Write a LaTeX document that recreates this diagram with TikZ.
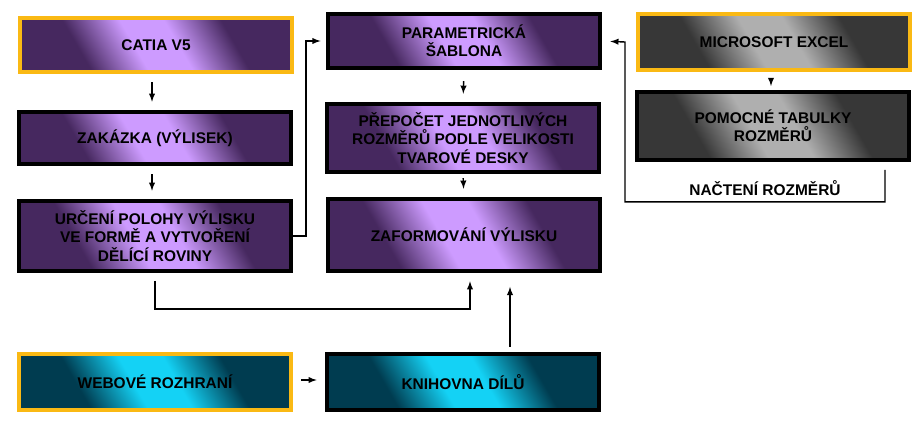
\documentclass[tikz,border=0pt]{standalone}
\usepackage{fontspec}
\setmainfont{Liberation Sans}
\usetikzlibrary{positioning}
\usetikzlibrary{calc}
\definecolor{violetlight}{RGB}{205,155,255}
\definecolor{violetdark}{RGB}{70,40,95}
\definecolor{cyanlight}{RGB}{20,210,245}
\definecolor{cyandark}{RGB}{0,60,80}
\definecolor{greylight}{RGB}{175,175,175}
\definecolor{greydark}{RGB}{55,55,55}
\definecolor{framegold}{RGB}{250,185,20}
\pgfdeclarehorizontalshading{violetshade}{100bp}{color(0bp)=(violetdark); color(32bp)=(violetdark); color(45bp)=(violetlight); color(55bp)=(violetlight); color(68bp)=(violetdark); color(100bp)=(violetdark)}
\pgfdeclarehorizontalshading{cyanshade}{100bp}{color(0bp)=(cyandark); color(32bp)=(cyandark); color(45bp)=(cyanlight); color(55bp)=(cyanlight); color(68bp)=(cyandark); color(100bp)=(cyandark)}
\pgfdeclarehorizontalshading{greyshade}{100bp}{color(0bp)=(greydark); color(32bp)=(greydark); color(45bp)=(greylight); color(55bp)=(greylight); color(68bp)=(greydark); color(100bp)=(greydark)}
\newcommand{\widthbox}{6.8cm}
\tikzset{
    common/.style={draw, line width=2.6pt, rectangle, minimum width=\widthbox, align=center,
        font=\bfseries\fontsize{11}{13}\selectfont},
    violetbox/.style={common, shading=violetshade, shading angle=30},
    cyanbox/.style={common, shading=cyanshade, shading angle=30},
    greybox/.style={common, shading=greyshade, shading angle=30},
    source/.style={draw=framegold},
    flow/.style={-latex, line width=1pt},
}
\begin{document}
\begin{tikzpicture}[x=0.025cm, y=-0.025cm]
            \useasboundingbox (0,0) rectangle (923,429);

            \node[violetbox, source, minimum height=1.35cm] (catia) at (156,45) {CATIA V5};
            \node[violetbox, minimum height=1.3cm] (zakazka) at (155,138) {ZAKÁZKA (VÝLISEK)};
            \node[violetbox, minimum height=1.75cm] (urceni) at (155,236) {URČENÍ POLOHY VÝLISKU\\VE FORMĚ A VYTVOŘENÍ\\DĚLÍCÍ ROVINY};

            \node[violetbox, minimum height=1.35cm] (sablona) at (464,41) {PARAMETRICKÁ\\ŠABLONA};
            \node[violetbox, minimum height=1.7cm] (prepocet) at (463,138) {PŘEPOČET JEDNOTLIVÝCH\\ROZMĚRŮ PODLE VELIKOSTI\\TVAROVÉ DESKY};
            \node[violetbox, minimum height=1.8cm] (zaformovani) at (464,235) {ZAFORMOVÁNÍ VÝLISKU};

            \node[greybox, source, minimum height=1.4cm] (excel) at (774,42) {MICROSOFT EXCEL};
            \node[greybox, minimum height=1.7cm] (tabulky) at (773,126) {POMOCNÉ TABULKY\\ROZMĚRŮ};

            \node[cyanbox, source, minimum height=1.4cm] (web) at (155,382) {WEBOVÉ ROZHRANÍ};
            \node[cyanbox, minimum height=1.4cm] (knihovna) at (463,382) {KNIHOVNA DÍLŮ};

            \node[font=\bfseries\fontsize{11}{13}\selectfont] (nacteni) at (765,188) {NAČTENÍ ROZMĚRŮ};

            \draw[flow, shorten <=6pt, shorten >=6pt] (catia.south -| 152,0) -- (zakazka.north -| 152,0);
            \draw[flow, shorten <=6pt, shorten >=6pt] (zakazka.south -| 152,0) -- (urceni.north -| 152,0);
            \draw[flow, shorten >=4pt] (urceni.east) -- ++(13,0) |- (sablona.west);
            \draw[flow, shorten <=8pt, shorten >=6pt] (sablona.south) -- (prepocet.north);
            \draw[flow, shorten <=3pt, shorten >=6pt] (prepocet.south) -- (zaformovani.north);
            \draw[flow, shorten >=6pt] ($(urceni.south)+(0,8)$) -- ++(0,28) -| ($(zaformovani.south -| 470,0)$);
            \draw[flow, shorten <=4pt, shorten >=10pt] (knihovna.north -| 510,0) -- (zaformovani.south -| 510,0);
            \draw[flow, shorten <=6pt, shorten >=6pt] (web.east |- 0,380) -- (knihovna.west |- 0,380);
            \draw[flow, shorten <=6pt, shorten >=3pt] (excel.south -| 771,0) -- (tabulky.north -| 771,0);
            \draw[flow, shorten >=6pt] ($(tabulky.south -| 885,0)+(0,8)$) -- ++(0,32) -| (625,42) -- (sablona.east);
\end{tikzpicture}
\end{document}
